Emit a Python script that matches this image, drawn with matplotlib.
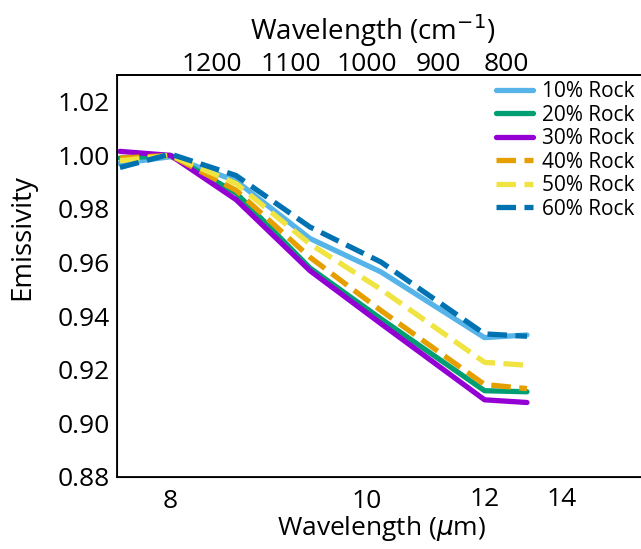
import numpy as np
import matplotlib
matplotlib.use('Agg')
import matplotlib.pyplot as plt

plt.rcParams['font.family'] = ['Open Sans', 'DejaVu Sans']

# wavelength (um) of each spectral point and emissivity for each rock fraction
wavelength = [7.63, 8.0, 8.55, 9.3, 10.2, 12.0, 13.0]
rock10 = [0.997, 0.9995, 0.9905, 0.969, 0.9565, 0.932, 0.933]
rock20 = [0.999, 1.000, 0.986, 0.958, 0.939, 0.9122, 0.9118]
rock30 = [1.0015, 1.000, 0.9835, 0.957, 0.9372, 0.9088, 0.9078]
rock40 = [0.999, 1.000, 0.987, 0.962, 0.9421, 0.9145, 0.9130]
rock50 = [0.998, 1.000, 0.9895, 0.967, 0.950, 0.9228, 0.9217]
rock60 = [0.9955, 1.0005, 0.9925, 0.9733, 0.9602, 0.9334, 0.9325]

um_ticks = [8, 10, 12, 14]
wavenumber_ticks = [1200, 1100, 1000, 900, 800]
y_ticks = [0.88, 0.90, 0.92, 0.94, 0.96, 0.98, 1.00, 1.02]


def fwd(x):
    x = np.asarray(x, dtype=float)
    with np.errstate(divide='ignore', invalid='ignore'):
        return -np.power(x, -1.5)


def inv(y):
    y = np.asarray(y, dtype=float)
    with np.errstate(divide='ignore', invalid='ignore'):
        return np.power(-y, -2.0 / 3.0)


fig = plt.figure(figsize=(6.41, 5.49), dpi=100)
ax = fig.add_axes([117 / 641, (549 - 477) / 549, (641 - 117) / 641, (477 - 75) / 549])
ax.set_xscale('function', functions=(fwd, inv))

series = [
    (rock10, '10% Rock', '#56B4E9', '-'),
    (rock20, '20% Rock', '#009E73', '-'),
    (rock30, '30% Rock', '#9400D3', '-'),
    (rock40, '40% Rock', '#E69F00', '--'),
    (rock50, '50% Rock', '#F0E442', '--'),
    (rock60, '60% Rock', '#0072B2', '--'),
]
for vals, name, col, ls in series:
    ax.plot(wavelength, vals, color=col, ls=ls, lw=3.8, label=name,
            solid_capstyle='round', solid_joinstyle='round')

ax.set_xlim(7.61, 17.2)
ax.set_ylim(0.88, 1.03)
ax.set_yticks(y_ticks)
ax.set_yticklabels(['%.2f' % v for v in y_ticks])
ax.set_xticks(um_ticks)
ax.set_xticklabels([str(v) for v in um_ticks])
ax.tick_params(length=0, labelsize=19)
ax.tick_params(axis='y', pad=5)
ax.tick_params(axis='x', pad=9)
for t in ax.xaxis.get_major_ticks()[2:]:
    t.set_pad(7)
ax.spines['right'].set_visible(False)
for s in ['left', 'bottom', 'top']:
    ax.spines[s].set_linewidth(1.3)

ax.set_ylabel('Emissivity', fontsize=20)
ax.yaxis.set_label_coords(-0.155, 0.597)
ax.set_xlabel(r'Wavelength ($\mu$m)', fontsize=19)
ax.xaxis.set_label_coords(0.504, -0.093)

top = ax.twiny()
top.set_xscale('function', functions=(fwd, inv))
top.set_xlim(ax.get_xlim())
top.set_xticks([1e4 / n for n in wavenumber_ticks])
top.set_xticklabels([str(n) for n in wavenumber_ticks])
top.tick_params(length=0, labelsize=19, pad=-1.5)
top.spines['right'].set_visible(False)
top.spines['top'].set_linewidth(1.3)
top.set_xlabel(r'Wavelength (cm$^{-1}$)', fontsize=20)
top.xaxis.set_label_coords(0.487, 1.087)

ax.legend(loc='upper right', bbox_to_anchor=(1.0, 1.0), frameon=False,
          fontsize=15, handlelength=1.75, handletextpad=0.45,
          labelspacing=0.12, borderaxespad=0.3, borderpad=0)

fig.savefig('out.png', dpi=100)
